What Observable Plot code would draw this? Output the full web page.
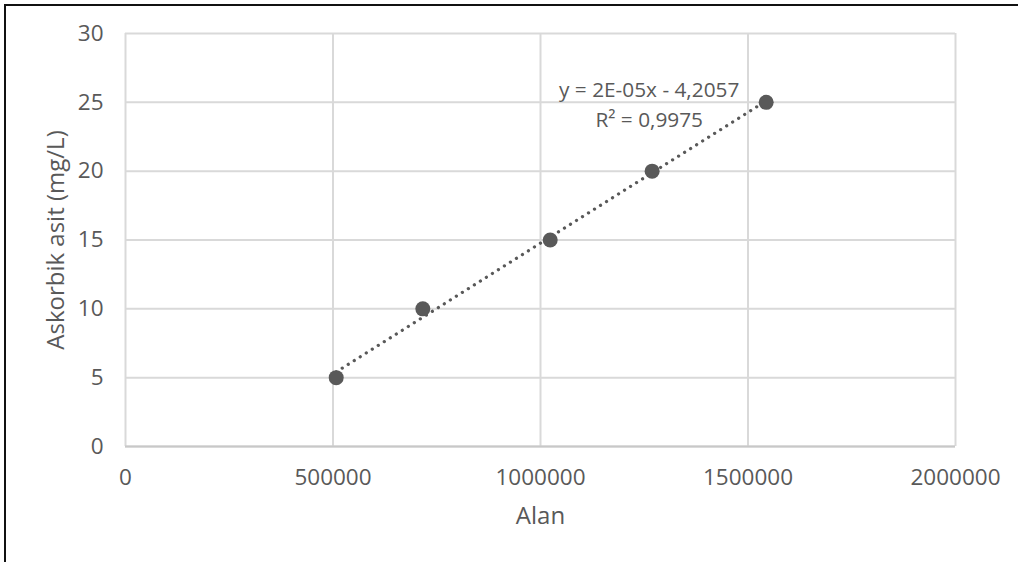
<!DOCTYPE html>
<html>
<head>
<meta charset="utf-8">
<script src="https://cdn.jsdelivr.net/npm/d3@7"></script>
<script src="https://cdn.jsdelivr.net/npm/@observablehq/plot@0.6"></script>
<style>
  html, body { margin: 0; padding: 0; background: #fff; }
  #wrap { position: relative; width: 1018px; height: 562px; overflow: hidden; }
  #frame { position: absolute; left: 4px; top: 4px; right: -10px; bottom: -10px; border-top: 2px solid #111; border-left: 2px solid #111; pointer-events: none; }
  svg { display: block; }
</style>
</head>
<body>
<div id="wrap"><div id="frame"></div></div>
<script>
// Data
const alan = [507700, 716400, 1023400, 1269000, 1543800];
const askorbik = [5, 10, 15, 20, 25];
const xTicks = [0, 500000, 1000000, 1500000, 2000000];
const yTicks = [0, 5, 10, 15, 20, 25, 30];
const xTitle = "Alan";
const yTitle = "Askorbik asit (mg/L)";
const equationText = ["y = 2E-05x - 4,2057", "R² = 0,9975"];

const data = alan.map((x, i) => ({x, y: askorbik[i]}));
const last = data[data.length - 1];

const grey = "#595959";
const chart = Plot.plot({
  width: 1018,
  height: 562,
  marginLeft: 125,
  marginRight: 63,
  marginTop: 33,
  marginBottom: 116,
  style: {fontFamily: "'Open Sans', sans-serif", fontSize: "22.5px", color: grey, background: "transparent"},
  x: {domain: [0, 2000000]},
  y: {domain: [0, 30]},
  marks: [
    Plot.gridY(yTicks, {stroke: "#d9d9d9", strokeOpacity: 1, strokeWidth: 2}),
    Plot.gridX(xTicks, {stroke: "#d9d9d9", strokeOpacity: 1, strokeWidth: 2}),
    Plot.ruleY([0], {stroke: "#c8c8c8", strokeWidth: 2}),
    Plot.axisX(xTicks, {tickSize: 0, tickPadding: 22.5, tickFormat: d => String(d), label: null, fill: grey, fontSize: 22.5}),
    Plot.axisY(yTicks, {tickSize: 0, tickPadding: 22, tickFormat: d => String(d), label: null, fill: grey, fontSize: 22.5}),
    Plot.text([xTitle], {frameAnchor: "bottom", dy: 70, fontSize: 24, fill: grey, lineAnchor: "middle", textAnchor: "middle"}),
    Plot.text([yTitle], {frameAnchor: "left", rotate: -90, dx: -69.5, fontSize: 24, fill: grey, lineAnchor: "middle", textAnchor: "middle"}),
    Plot.linearRegressionY(data, {x: "x", y: "y", ci: 0, stroke: grey, strokeWidth: 3.2, strokeDasharray: "0.1 7", strokeLinecap: "round"}),
    Plot.dot(data, {x: "x", y: "y", r: 7.5, fill: grey, stroke: "none"}),
    Plot.text([last], {x: "x", y: "y", text: () => equationText.join("\n"), dx: -117, dy: 0, fontSize: 20.8, lineHeight: 1.42, fill: grey, textAnchor: "middle", lineAnchor: "middle"})
  ]
});
document.getElementById("wrap").prepend(chart);
</script>
</body>
</html>
